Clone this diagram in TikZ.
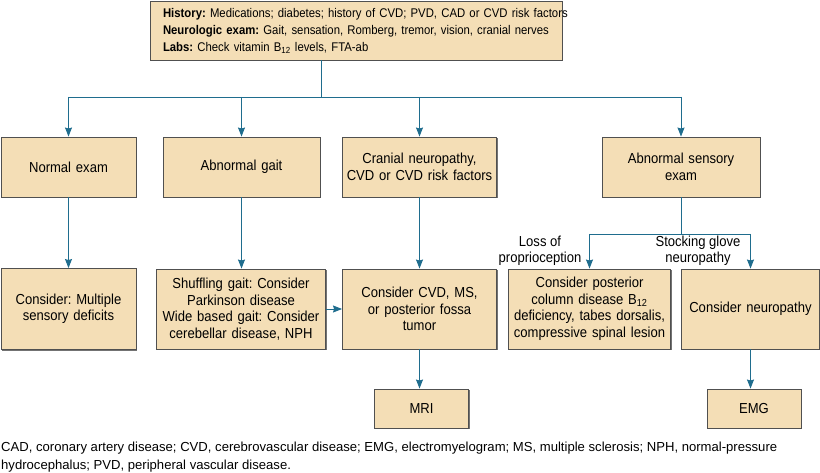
\documentclass[tikz,border=0pt]{standalone}
\usepackage{fontspec}
\setmainfont{Liberation Sans}
\newfontfamily\cond[FakeStretch=0.9]{Liberation Sans}
\usetikzlibrary{arrows.meta,shadows}
\definecolor{boxfill}{HTML}{F4DEB6}
\definecolor{linec}{HTML}{1F6D8E}
\definecolor{boxline}{HTML}{505050}
\frenchspacing
\tikzset{
  box/.style={draw=boxline, line width=0.9pt, fill=boxfill, rectangle, inner sep=2pt, align=center,
    font=\cond\fontsize{14.5}{16.5}\selectfont,
    drop shadow={shadow xshift=1.2pt, shadow yshift=-1.2pt, fill=black!55, opacity=1}},
  conn/.style={draw=linec, line width=0.9pt},
  arr/.style={conn, -{Stealth[length=9pt,width=7pt,inset=1pt]}},
  lbl/.style={align=center, inner sep=0pt, font=\cond\fontsize{14.5}{16.5}\selectfont}
}
\newcommand{\bx}[6]{\node[box, minimum width=#3pt, minimum height=#4pt, text width=#5pt] (#1) at (#2) {#6};}
\begin{document}
\begin{tikzpicture}[x=1pt,y=-1pt]
\useasboundingbox (0,0) rectangle (820,473);
\node[box, inner xsep=13pt, text width=386pt, minimum height=59pt, align=left, font=\cond\fontsize{12.6}{17}\selectfont] (top) at (356,30.5)
{\mbox{\textbf{History:} Medications; diabetes; history of CVD; PVD, CAD or CVD risk factors}\\
\mbox{\textbf{Neurologic exam:} Gait, sensation, Romberg, tremor, vision, cranial nerves}\\
\mbox{\textbf{Labs:} Check vitamin B\textsubscript{12} levels, FTA-ab}};
\bx{normal}{68.5,167}{135}{60}{125}{Normal exam}
\bx{gait}{241.5,167}{157}{60}{150}{Abnormal gait}
\bx{cranial}{419.5,167}{153}{60}{150}{Cranial neuropathy,\\CVD or CVD risk factors}
\bx{sensory}{681,167}{158}{60}{150}{Abnormal sensory\\exam}
\bx{multi}{68.5,309}{135}{81}{130}{Consider: Multiple\\sensory deficits}
\bx{shuffle}{241,309}{168}{80}{165}{Shuffling gait: Consider\\Parkinson disease\\Wide based gait: Consider\\cerebellar disease, NPH}
\bx{cvd}{419.5,309}{153}{80}{150}{Consider CVD, MS,\\or posterior fossa\\tumor}
\bx{post}{589.5,309}{161}{80}{158}{Consider posterior\\column disease B\textsubscript{12}\\deficiency, tabes dorsalis,\\compressive spinal lesion}
\bx{neuro}{750.5,309}{137}{80}{134}{Consider neuropathy}
\bx{mri}{421.5,408.5}{93}{39}{90}{MRI}
\bx{emg}{754,408.5}{94}{39}{90}{EMG}

\coordinate (j1) at (321,97);
\coordinate (j2) at (681,234);
\draw[conn] (j1 |- top.south) -- (j1);
\draw[conn] (normal.north |- j1) -- (sensory.north |- j1);
\foreach \n in {normal,gait,cranial,sensory}
  \draw[arr] (\n.north |- j1) -- (\n.north);
\draw[arr] (normal.south) -- (normal.south |- multi.north);
\draw[arr] (gait.south) -- (gait.south |- shuffle.north);
\draw[arr] (cranial.south) -- (cranial.south |- cvd.north);
\draw[arr] (shuffle.east) -- (cvd.west);
\draw[arr] (cvd.south) -- (cvd.south |- mri.north);
\draw[conn] (sensory.south -| j2) -- (j2);
\draw[conn] (post.north |- j2) -- (neuro.north |- j2);
\draw[arr] (post.north |- j2) -- (post.north);
\draw[arr] (neuro.north |- j2) -- (neuro.north);
\draw[arr] (neuro.south) -- (neuro.south |- emg.north);

\node[lbl] (l1) at (540,251) {Loss of\\proprioception};
\node[lbl] (l2) at (698,251) {Stocking glove\\neuropathy};

\node[anchor=north west, inner sep=0pt, align=left, font=\fontsize{13.1}{17.5}\selectfont] (foot) at (1,442)
 {CAD, coronary artery disease; CVD, cerebrovascular disease; EMG, electromyelogram; MS, multiple sclerosis; NPH, normal-pressure\\hydrocephalus; PVD, peripheral vascular disease.};
\end{tikzpicture}
\end{document}
